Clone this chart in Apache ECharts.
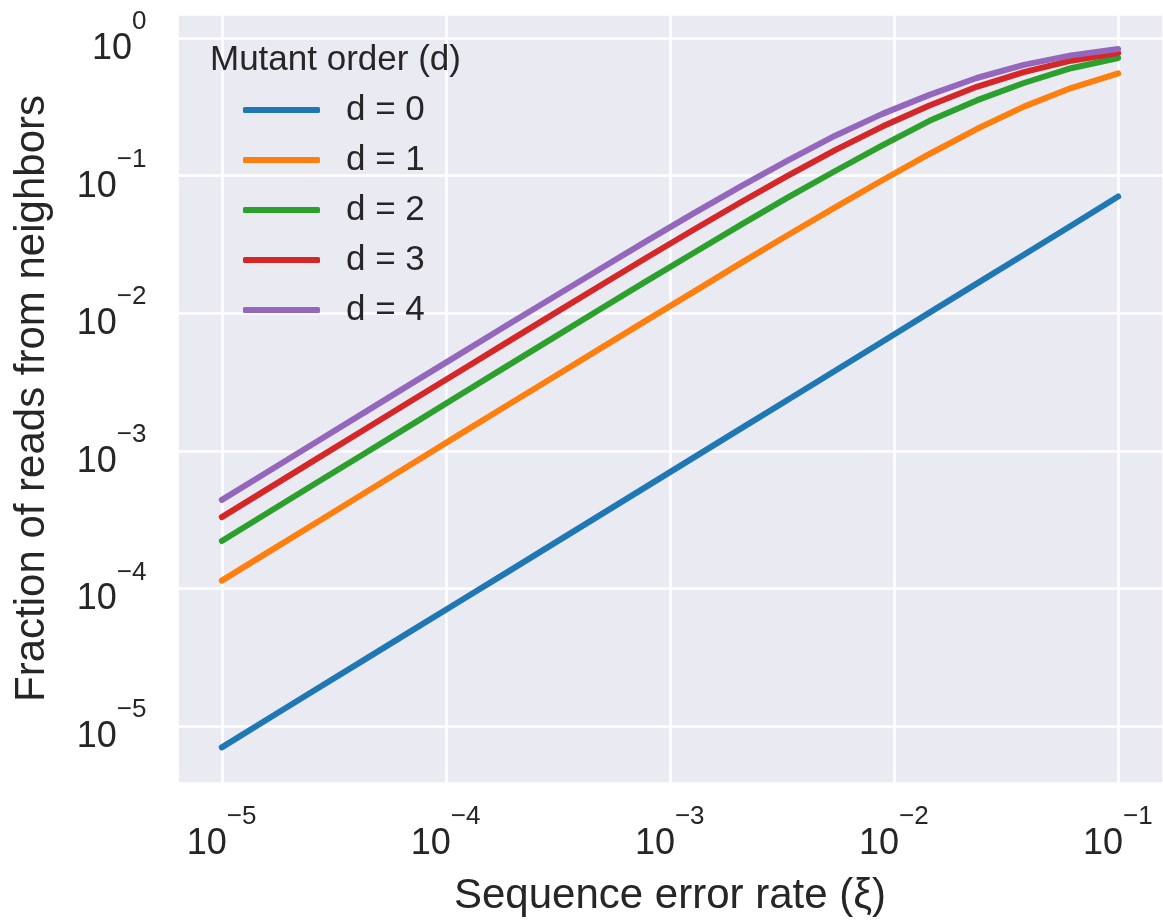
<!DOCTYPE html>
<html><head><meta charset="utf-8">
<script src="https://cdn.jsdelivr.net/npm/echarts@6/dist/echarts.min.js"></script>
<style>html,body{margin:0;padding:0;background:#fff}#c{width:1163px;height:923px}</style>
</head><body><div id="c"></div>
<script>
// ---- data ----
const errorRate = [1.000e-5, 1.624e-5, 2.637e-5, 4.281e-5, 6.952e-5, 1.129e-4, 1.833e-4, 2.976e-4, 4.833e-4, 7.848e-4,
                   1.274e-3, 2.069e-3, 3.360e-3, 5.456e-3, 8.859e-3, 1.438e-2, 2.336e-2, 3.793e-2, 6.158e-2, 1.000e-1];
const d0 = [7.0e-6, 1.14e-5, 1.85e-5, 3.0e-5, 4.87e-5, 7.9e-5, 1.28e-4, 2.08e-4, 3.38e-4, 5.49e-4,
            8.92e-4, 1.45e-3, 2.35e-3, 3.82e-3, 6.2e-3, 1.01e-2, 1.64e-2, 2.66e-2, 4.32e-2, 7.05e-2];
const d1 = [1.14e-4, 1.85e-4, 3.0e-4, 4.88e-4, 7.92e-4, 1.29e-3, 2.09e-3, 3.38e-3, 5.48e-3, 8.87e-3,
            1.43e-2, 2.31e-2, 3.70e-2, 5.88e-2, 9.25e-2, 0.1436, 0.218, 0.317, 0.433, 0.554];
const d2 = [2.21e-4, 3.59e-4, 5.83e-4, 9.45e-4, 1.53e-3, 2.49e-3, 4.04e-3, 6.54e-3, 1.06e-2, 1.71e-2,
            2.74e-2, 4.38e-2, 6.94e-2, 0.108, 0.166, 0.250, 0.352, 0.471, 0.603, 0.716];
const d3 = [3.30e-4, 5.36e-4, 8.70e-4, 1.41e-3, 2.29e-3, 3.71e-3, 6.01e-3, 9.73e-3, 1.57e-2, 2.53e-2,
            4.04e-2, 6.40e-2, 0.100, 0.153, 0.227, 0.323, 0.442, 0.565, 0.684, 0.778];
const d4 = [4.40e-4, 7.14e-4, 1.16e-3, 1.88e-3, 3.05e-3, 4.94e-3, 8.00e-3, 1.29e-2, 2.08e-2, 3.34e-2,
            5.32e-2, 8.36e-2, 0.129, 0.195, 0.281, 0.386, 0.512, 0.638, 0.748, 0.832];
const seriesNames = ['d = 0', 'd = 1', 'd = 2', 'd = 3', 'd = 4'];
const seriesValues = [d0, d1, d2, d3, d4];
const xTickExponents = [-5, -4, -3, -2, -1];
const yTickExponents = [-5, -4, -3, -2, -1, 0];
const legendTitle = 'Mutant order (d)';
const xTitle = 'Sequence error rate (\u03BE)';
const yTitle = 'Fraction of reads from neighbors';

// ---- style ----
const colors = ['#1f77b4', '#ff7f0e', '#2ca02c', '#d62728', '#9467bd'];
const FONT = "'Liberation Sans', Arial, Helvetica, sans-serif";
const TXT = '#262626';

function powLabel(allowed) {
  return function (v) {
    const e = Math.log10(v);
    const r = Math.round(e);
    if (Math.abs(e - r) > 1e-6 || allowed.indexOf(r) < 0) return '';
    const s = r < 0 ? '\u2212' + Math.abs(r) : String(r);
    return '{b|10}{s|' + s + '}{z| }';
  };
}
const richLabel = {
  b: { fontSize: 36, lineHeight: 40, fontFamily: FONT, color: TXT, verticalAlign: 'bottom' },
  s: { fontSize: 26, lineHeight: 26, fontFamily: FONT, color: TXT, verticalAlign: 'top' },
  z: { fontSize: 2, lineHeight: 58, fontFamily: FONT, color: TXT, verticalAlign: 'middle' }
};

const chart = echarts.init(document.getElementById('c'), null, { renderer: 'canvas' });
chart.setOption({
  animation: false,
  backgroundColor: '#ffffff',
  grid: { left: 177, right: 0, top: 14, bottom: 140, show: true, backgroundColor: '#EAEAF2', borderWidth: 0,
          containLabel: false, outerBoundsMode: 'none' },
  xAxis: {
    type: 'log', logBase: 10,
    min: Math.pow(10, -5.2), max: Math.pow(10, -0.8),
    axisLine: { show: false }, axisTick: { show: false },
    splitLine: { show: true, lineStyle: { color: '#ffffff', width: 2.5 } },
    minorSplitLine: { show: false },
    axisLabel: { formatter: powLabel(xTickExponents), rich: richLabel, fontSize: 36, fontFamily: FONT, color: TXT, margin: 21, hideOverlap: false },
    name: xTitle, nameLocation: 'middle', nameGap: 92,
    nameTextStyle: { fontSize: 42, fontFamily: FONT, color: TXT }
  },
  yAxis: {
    type: 'log', logBase: 10,
    min: Math.pow(10, -5.414), max: Math.pow(10, 0.1744),
    axisLine: { show: false }, axisTick: { show: false },
    splitLine: { show: true, lineStyle: { color: '#ffffff', width: 2.5 } },
    axisLabel: { formatter: powLabel(yTickExponents), rich: richLabel, fontSize: 36, fontFamily: FONT, color: TXT, margin: 30, hideOverlap: false },
    name: yTitle, nameLocation: 'middle', nameGap: 124, nameRotate: 90,
    nameTextStyle: { fontSize: 42, fontFamily: FONT, color: TXT }
  },
  legend: {
    orient: 'vertical', left: 243, top: 90, padding: 0, itemGap: 10,
    itemWidth: 77, itemHeight: 6, icon: 'roundRect',
    data: seriesNames,
    textStyle: { fontSize: 35, lineHeight: 40, fontFamily: FONT, color: TXT, padding: [0, 0, 0, 21] }
  },
  graphic: [{
    type: 'text', left: 210, top: 43, z: 100,
    style: { text: legendTitle, font: '35px ' + FONT, fill: TXT }
  }],
  series: seriesNames.map((name, i) => ({
    name: name,
    type: 'line',
    data: errorRate.map((x, j) => [x, seriesValues[i][j]]),
    showSymbol: false, symbol: 'none',
    color: colors[i],
    lineStyle: { width: 6, color: colors[i], cap: 'round', join: 'round' },
    z: 2 + i
  }))
});
</script>
</body></html>
